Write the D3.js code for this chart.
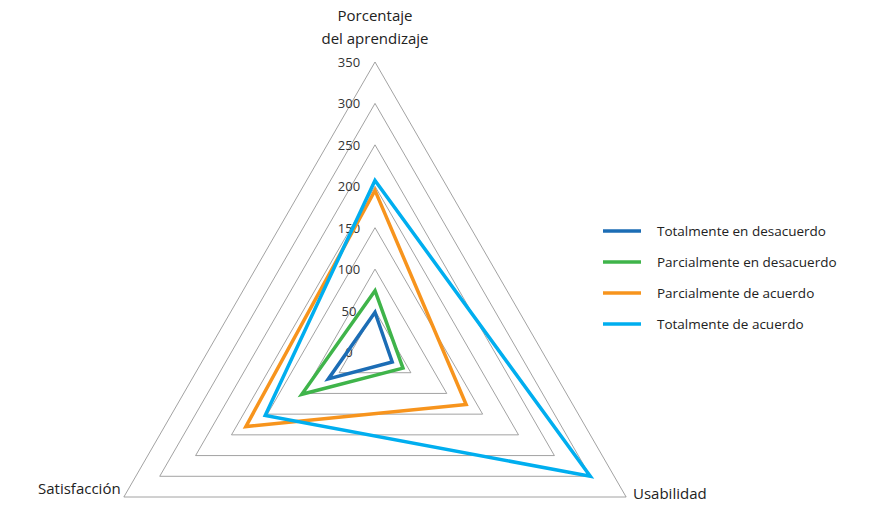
<!DOCTYPE html>
<html><head><meta charset="utf-8">
<script src="https://cdn.jsdelivr.net/npm/d3@7"></script>
<style>body{margin:0;background:#fff}svg{font-family:"Open Sans",sans-serif}</style>
</head><body><div id="chart"></div>
<script>
const axes = ["Porcentaje del aprendizaje", "Usabilidad", "Satisfacción"];
const seriesNames = ["Totalmente en desacuerdo", "Parcialmente en desacuerdo", "Parcialmente de acuerdo", "Totalmente de acuerdo"];
const seriesValues = [
	[48, 24, 65],
	[74, 39, 102],
	[195, 127, 180],
	[207, 300, 153]
];
const ticks = [0, 50, 100, 150, 200, 250, 300, 350];
const colors = ["#1c6db5", "#3fb44a", "#f7941d", "#00aeef"];

const width = 878, height = 525;
const cx = 375, cy = 352;
const r = d3.scaleLinear().domain([0, 350]).range([0, 290]);
const angles = [-Math.PI / 2, Math.PI / 6, 5 * Math.PI / 6];
const pt = (v, i) => [cx + r(v) * Math.cos(angles[i]), cy + r(v) * Math.sin(angles[i])];

const svg = d3.select("#chart").append("svg").attr("width", width).attr("height", height);

// grid triangles
svg.selectAll(".grid")
	.data(ticks.slice(1))
	.join("polygon")
	.attr("class", "grid")
	.attr("points", (t) => [0, 1, 2].map((i) => pt(t, i).join(",")).join(" "))
	.attr("fill", "none")
	.attr("stroke", "#8a8a8a")
	.attr("stroke-width", 0.8);

// tick labels
svg.selectAll(".tick")
	.data(ticks)
	.join("text")
	.attr("x", cx - 26)
	.attr("y", (t) => cy - r(t) + 5)
	.attr("text-anchor", "middle")
	.attr("font-size", 13)
	.attr("fill", "#333")
	.text((t) => t);

// series
const line = d3.line().curve(d3.curveLinearClosed);
svg.selectAll(".series")
	.data(seriesValues)
	.join("path")
	.attr("class", "series")
	.attr("d", (vals) => line(vals.map((v, i) => pt(v, i))))
	.attr("fill", "none")
	.attr("stroke", (d, i) => colors[i])
	.attr("stroke-width", 3.5)
	.attr("stroke-linejoin", "miter");

// axis labels
const lab = svg.append("g").attr("font-size", 15).attr("fill", "#222");
lab.append("text").attr("x", cx).attr("y", 21).attr("text-anchor", "middle").text("Porcentaje");
lab.append("text").attr("x", cx).attr("y", 44).attr("text-anchor", "middle").text("del aprendizaje");
lab.append("text").attr("x", 633).attr("y", 499).text("Usabilidad");
lab.append("text").attr("x", 38).attr("y", 494).text("Satisfacción");

// legend
const leg = svg.append("g").attr("transform", "translate(603,231)");
seriesNames.forEach((n, i) => {
	leg.append("line").attr("x1", 0).attr("x2", 38).attr("y1", i * 31).attr("y2", i * 31)
		.attr("stroke", colors[i]).attr("stroke-width", 3.5);
	leg.append("text").attr("x", 54).attr("y", i * 31 + 5).attr("font-size", 13.5).attr("fill", "#222").text(n);
});
</script></body></html>
